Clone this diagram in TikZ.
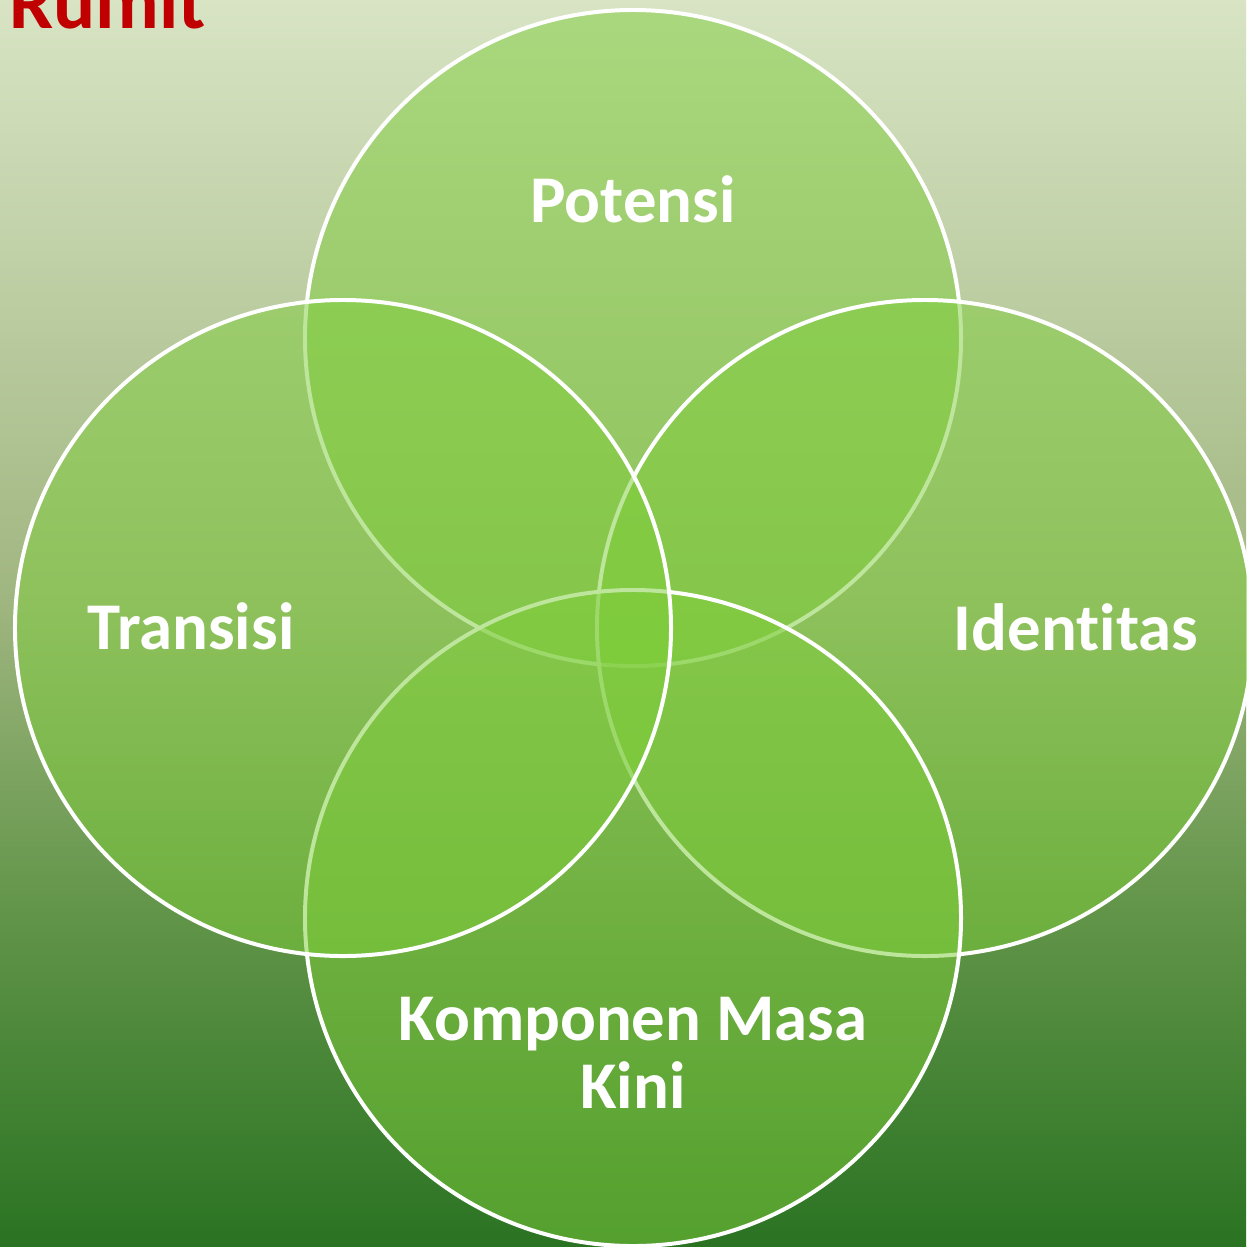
\documentclass[tikz,border=0pt]{standalone}
\usepackage{fontspec}
\setmainfont{Carlito}[Ligatures=NoCommon]
\usepackage{tikz}
\usetikzlibrary{positioning}

\definecolor{vennfill}{RGB}{126,205,58}
\definecolor{rumitred}{RGB}{192,0,0}
\definecolor{bgtop}{RGB}{216,228,196}
\definecolor{bgmid}{RGB}{160,182,128}
\definecolor{bglow}{RGB}{100,150,75}
\definecolor{bgbot}{RGB}{42,115,34}
\pgfdeclareverticalshading{bgfade}{100bp}{color(0bp)=(bgbot); color(25bp)=(bgbot);
  color(39bp)=(bglow); color(51bp)=(bgmid); color(75bp)=(bgtop); color(100bp)=(bgtop)}

\tikzset{
    venn/.style={circle, draw=white, line width=3.4pt, fill=vennfill,
        fill opacity=0.5, minimum size=19.68cm, inner sep=0pt},
    lbl/.style={text=white, font=\fontsize{57}{58}\selectfont\bfseries,
        inner sep=0pt, anchor=base, align=center}
}

\begin{document}
\begin{tikzpicture}[x=0.03cm, y=-0.03cm]
    \useasboundingbox (0, 0) rectangle (1246, 1247);
    \shade[shading=bgfade] (0, 0) rectangle (1246, 1247);

    % the four circles, later ones cover earlier edges
    \node[venn] (ctop) at (633, 338) {};
    \node[venn] (cright) at (925, 628) {};
    \node[venn] (cbottom) at (633, 918) {};
    \node[venn] (cleft) at (343, 628) {};

    \node[lbl] (potensi) at (633, 222) {Potensi};
    \node[lbl] (identitas) at (1076, 650) {Identitas};
    \node[lbl] (transisi) at (191, 649) {Transisi};
    \node[lbl] (komponen) at (633, 1040) {Komponen Masa};
    \node[lbl] (kini) at (633, 1108) {Kini};

    \node[text=rumitred, font=\fontsize{67}{70}\selectfont\bfseries,
        inner sep=0pt, anchor=base west] (rumit) at (9, 28) {Rumit};
\end{tikzpicture}
\end{document}
